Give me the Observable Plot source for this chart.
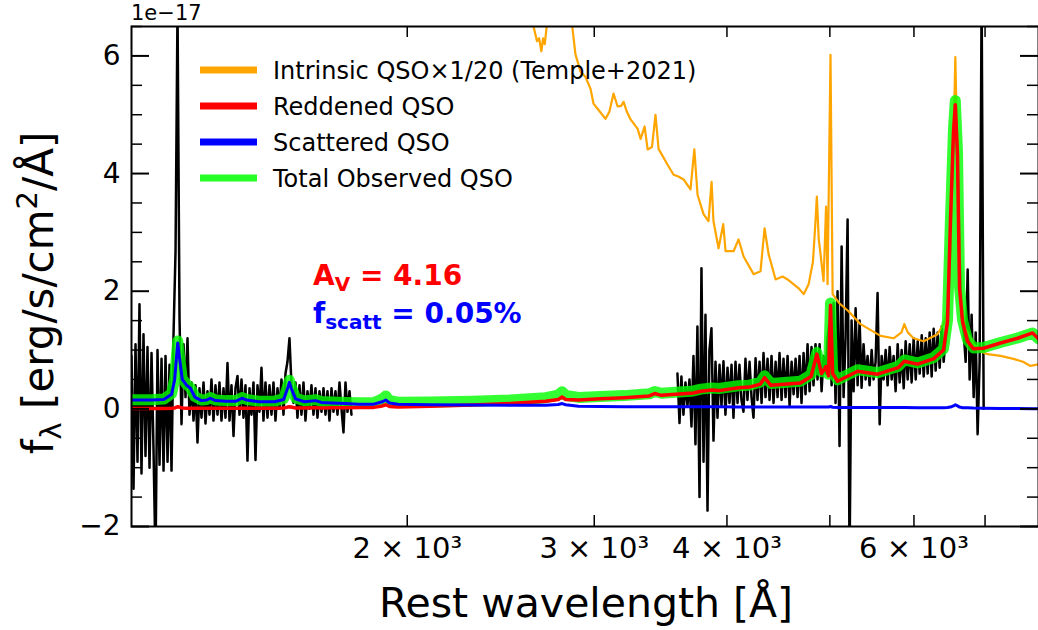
<!DOCTYPE html>
<html><head><meta charset="utf-8">
<script src="https://cdn.jsdelivr.net/npm/d3@7"></script>
<script src="https://cdn.jsdelivr.net/npm/@observablehq/plot@0.6"></script>
<style>
html,body{margin:0;padding:0;background:#fff;}
#chart{width:1038px;height:630px;}
svg{display:block;}
</style></head>
<body><div id="chart"></div>
<script>
// ---------------- DATA ----------------
// Observed spectrum, blue part (rest wavelength [Å], flux [1e-17 erg/s/cm2/Å])
const obsWave1 = [1100.0,1104.8,1109.6,1114.4,1119.2,1124.1,1129.0,1133.9,1138.8,1143.8,1148.8,1153.8,1158.8,1163.8,1168.9,1174.0,1179.1,1184.2,1189.4,1194.5,1199.7,1204.9,1210.2,1215.4,1220.7,1226.0,1231.3,1236.7,1242.0,1247.4,1252.8,1258.3,1263.7,1269.2,1274.7,1280.3,1285.9,1291.4,1297.0,1302.7,1308.3,1314.0,1319.7,1325.5,1331.2,1337.0,1342.8,1348.6,1354.5,1360.4,1366.3,1372.3,1378.2,1384.2,1390.2,1396.3,1402.3,1408.4,1414.5,1420.7,1426.8,1433.0,1439.3,1445.5,1451.8,1458.1,1464.4,1470.8,1477.2,1483.6,1490.1,1496.5,1503.0,1509.6,1516.1,1522.7,1529.3,1536.0,1542.6,1549.3,1556.1,1562.8,1569.6,1576.4,1583.3,1590.2,1597.1,1604.0,1611.0,1618.0,1625.0,1632.1,1639.2,1646.3,1653.5,1660.7,1667.9,1675.1,1682.4,1689.7,1697.1,1704.4,1711.8,1719.3,1726.8,1734.3,1741.8,1749.4,1757.0,1764.6,1772.3];
const obsFlux1 = [0.9,-1.36,1.1,-0.9,1.78,-1.1,1.27,-0.8,1.05,-1.0,0.95,-0.7,-2.6,1.0,-0.95,0.85,-1.05,0.9,-0.9,0.75,-1.05,1.25,2.68,6.8,1.55,-0.26,1.1,0.2,1.2,-0.1,0.45,-0.2,0.4,-0.57,0.35,-0.15,0.45,-0.25,0.3,-0.1,0.5,-0.2,0.4,-0.1,0.45,-0.2,0.35,-0.15,0.78,-0.2,0.4,-0.46,0.35,0.56,-0.1,0.5,-0.15,0.4,-0.88,0.35,-0.1,0.45,-0.87,0.4,-0.05,0.7,-0.2,0.45,-0.15,0.4,-0.1,0.45,-0.2,0.35,0.0,0.5,-0.1,0.6,0.8,1.2,0.4,0.1,0.45,-0.15,0.4,-0.1,0.45,-0.2,0.3,0.0,0.4,-0.1,0.35,-0.15,0.3,-0.05,0.35,-0.1,0.3,-0.2,0.35,-0.05,0.3,-0.1,0.45,0.0,-0.4,0.45,-0.05,0.3,-0.1];
// Observed spectrum, red part
const obsWave2 = [3593,3609,3624,3640,3656,3672,3688,3704,3720,3736,3752,3769,3785,3802,3818,3835,3851,3868,3885,3902,3919,3936,3953,3970,3987,4005,4022,4040,4057,4075,4093,4110,4128,4146,4164,4182,4201,4219,4237,4256,4274,4293,4312,4330,4349,4368,4387,4406,4425,4445,4464,4483,4503,4522,4542,4562,4582,4602,4622,4642,4662,4682,4702,4723,4743,4764,4785,4805,4826,4847,4868,4890,4911,4932,4954,4975,4997,5019,5040,5062,5084,5106,5129,5151,5173,5196,5218,5241,5264,5287,5310,5333,5356,5379,5403,5426,5450,5474,5497,5521,5545,5570,5594,5618,5643,5667,5692,5717,5741,5766,5792,5817,5842,5868,5893,5919,5945,5970,5996,6023,6049,6075,6102,6128,6155,6181,6208,6235,6262,6289,6317,6344,6372,6399,6427,6455,6483,6511,6539,6568,6596,6625,6654,6683,6712,6741,6770,6799,6829,6859,6888,6918,6948,6979];
const obsFlux2 = [0.6,-0.24,0.55,-0.1,0.45,0.05,0.5,-0.3,0.9,-0.6,1.4,-1.5,2.39,-0.9,1.6,-1.73,1.0,1.37,-0.54,0.8,-0.15,0.75,0.05,0.81,-0.1,0.7,0.1,0.75,-0.15,0.8,0.1,0.75,0.15,-0.05,0.85,0.15,0.8,0.2,-0.15,0.86,0.15,0.8,0.1,0.95,0.2,0.85,0.15,0.9,0.1,0.8,0.2,0.95,0.15,0.85,0.2,0.9,0.05,0.8,0.25,0.85,0.2,0.9,0.1,0.95,0.25,1.1,0.3,1.05,0.4,1.1,0.5,1.1,0.3,0.9,0.6,1.2,1.5,0.4,1.8,0.1,2.0,-0.63,2.76,0.2,1.2,3.22,-2.6,1.5,0.3,1.71,0.4,1.5,0.36,1.1,0.5,0.9,0.4,1.0,0.5,0.8,1.97,-0.26,0.9,0.5,1.0,0.4,1.05,0.5,0.9,0.3,1.1,0.45,1.0,0.35,1.15,0.5,1.1,0.45,1.2,0.5,1.15,0.6,1.25,0.55,1.2,0.6,1.3,0.55,1.36,0.65,1.3,0.7,1.4,0.8,1.2,1.5,2.5,3.8,4.7,5.1,4.2,2.6,1.6,1.3,0.8,2.37,0.5,1.6,0.2,1.3,-0.43,0.8,7.0,0.0];

// Intrinsic QSO template x 1/20
const intrWave = [2550,2600,2630,2650,2662,2675,2685,2695,2706,2750,2798,2840,2862,2880,2912,2944,2976,2995,3028,3074,3100,3128,3156,3180,3197,3220,3246,3296,3317,3346,3368,3400,3426,3449,3517,3563,3600,3641,3696,3727,3753,3802,3843,3869,3885,3928,3968,3988,4058,4102,4147,4238,4302,4340,4378,4445,4513,4562,4673,4724,4775,4820,4847,4861,4880,4900,4932,4959,4975,5007,5030,5100,5206,5344,5581,5741,5840,5876,5920,5995,6127,6315,6400,6453,6494,6530,6553,6563,6573,6600,6637,6700,6827,6950,7038,7239,7446,7600,7725,7860];
const intrFlux = [7.3,6.9,6.5,6.25,6.3,6.08,6.3,6.2,6.5,7.6,9.5,7.2,6.46,6.03,5.73,5.64,5.44,5.19,5.08,4.93,5.05,5.36,5.14,5.15,5.22,5.05,4.92,4.76,4.59,4.8,4.41,4.45,5.0,4.42,4.15,3.98,3.95,3.9,3.73,4.41,3.64,3.31,3.19,3.86,3.19,2.73,3.14,2.68,2.68,2.88,2.59,2.29,2.34,3.07,2.63,2.2,2.25,2.2,2.05,1.95,2.12,2.5,3.2,3.61,2.9,2.63,2.17,3.44,2.12,6.02,1.95,1.8,1.66,1.44,1.24,1.2,1.3,1.44,1.3,1.2,1.15,1.27,1.45,1.7,2.6,4.3,5.4,5.98,5.4,3.8,2.0,1.4,1.1,0.97,0.93,0.9,0.85,0.8,0.73,0.76];

// Model components on a common wavelength grid
const modelWave = [1100,1150,1180,1200,1208,1213,1216,1220,1228,1240,1250,1262,1280,1295,1305,1320,1350,1380,1398,1412,1450,1500,1530,1543,1549,1555,1570,1600,1640,1660,1700,1750,1800,1860,1895,1909,1925,1960,2100,2300,2500,2700,2775,2798,2820,2900,3040,3200,3380,3420,3470,3720,3780,3870,3930,4102,4200,4300,4340,4400,4690,4800,4861,4910,4959,4985,5007,5030,5085,5310,5545,5800,5876,6046,6260,6397,6453,6494,6537,6563,6594,6623,6666,6739,6827,6976,7238,7511,7760,7860];
const scattered = [0.15,0.15,0.16,0.25,0.50,0.90,1.12,0.90,0.50,0.40,0.35,0.20,0.14,0.15,0.18,0.14,0.13,0.13,0.18,0.15,0.12,0.12,0.16,0.35,0.45,0.35,0.17,0.12,0.14,0.11,0.10,0.09,0.08,0.08,0.12,0.15,0.10,0.08,0.07,0.065,0.06,0.06,0.075,0.09,0.07,0.045,0.04,0.035,0.035,0.035,0.035,0.035,0.035,0.035,0.035,0.033,0.033,0.032,0.032,0.032,0.03,0.03,0.03,0.03,0.03,0.03,0.04,0.028,0.025,0.025,0.025,0.022,0.022,0.02,0.02,0.02,0.022,0.03,0.05,0.07,0.05,0.03,0.02,0.02,0.015,0.012,0.008,0.004,0.0,0.0];
const reddened = [0.005,0.005,0.006,0.01,0.015,0.03,0.035,0.03,0.015,0.012,0.01,0.01,0.01,0.01,0.012,0.01,0.01,0.01,0.012,0.01,0.01,0.012,0.015,0.03,0.035,0.03,0.015,0.015,0.017,0.016,0.018,0.02,0.022,0.025,0.05,0.07,0.04,0.033,0.045,0.065,0.09,0.13,0.16,0.20,0.16,0.15,0.17,0.19,0.22,0.26,0.23,0.27,0.30,0.32,0.31,0.36,0.37,0.42,0.53,0.40,0.44,0.55,0.93,0.60,0.72,0.56,1.76,0.60,0.47,0.64,0.59,0.70,0.81,0.76,0.85,1.00,1.49,3.19,4.71,5.17,4.32,2.05,1.49,1.15,1.02,1.03,1.12,1.20,1.29,1.19];
const totalObs = [0.155,0.155,0.166,0.26,0.515,0.93,1.155,0.93,0.515,0.412,0.36,0.21,0.15,0.16,0.192,0.15,0.14,0.14,0.192,0.16,0.13,0.132,0.175,0.38,0.485,0.38,0.185,0.135,0.157,0.126,0.118,0.11,0.102,0.105,0.17,0.22,0.14,0.113,0.115,0.13,0.15,0.19,0.235,0.29,0.23,0.195,0.21,0.225,0.255,0.295,0.265,0.305,0.335,0.355,0.345,0.393,0.403,0.452,0.562,0.432,0.47,0.58,0.96,0.63,0.75,0.59,1.80,0.628,0.495,0.665,0.615,0.722,0.832,0.78,0.87,1.02,1.512,3.22,4.76,5.24,4.37,2.08,1.51,1.17,1.035,1.042,1.128,1.204,1.29,1.19];

// Axes
const xDomain = [1100, 7860];
const yDomain = [-2, 6.5];
const xTicks = [2000, 3000, 4000, 5000, 6000, 7000];
const xTickLabels = [[2000, "2 × 10³"], [3000, "3 × 10³"], [4000, "4 × 10³"], [6000, "6 × 10³"]];
const yMajor = [-2, 0, 2, 4, 6];
const yMinor = [-1.5, -1, -0.5, 0.5, 1, 1.5, 2.5, 3, 3.5, 4.5, 5, 5.5, 6.5];
const legendItems = [
  ["Intrinsic QSO×1/20 (Temple+2021)", "#ffa500"],
  ["Reddened QSO", "#ff0000"],
  ["Scattered QSO", "#0000ff"],
  ["Total Observed QSO", "#00ff00"]
];

// ---------------- LAYOUT ----------------
const W = 1038, H = 630;
const mL = 131, mR = 0, mT = 26, mB = 104;
const pW = W - mL - mR, pH = H - mT - mB;
const FONT = "DejaVu Sans";

const obs1 = obsWave1.map((w, i) => ({w, f: obsFlux1[i]}));
const obs2 = obsWave2.map((w, i) => ({w, f: obsFlux2[i]}));
const intr = intrWave.map((w, i) => ({w, f: intrFlux[i]}));
const model = modelWave.map((w, i) => ({w, s: scattered[i], r: reddened[i], t: totalObs[i]}));
const xLab = new Map(xTickLabels);
const yFmt = d3.format("d");

const svg = Plot.plot({
  width: W, height: H,
  marginLeft: mL, marginRight: mR, marginTop: mT, marginBottom: mB,
  style: {fontFamily: FONT, background: "white", color: "black", overflow: "visible"},
  x: {type: "log", domain: xDomain, label: null},
  y: {domain: yDomain, label: null},
  marks: [
    Plot.line(obs1, {x: "w", y: "f", stroke: "black", strokeWidth: 2.5, clip: true}),
    Plot.line(obs2, {x: "w", y: "f", stroke: "black", strokeWidth: 2.5, clip: true}),
    Plot.line(intr, {x: "w", y: "f", stroke: "#ffa500", strokeWidth: 2.2, clip: true}),
    Plot.line(model, {x: "w", y: "t", stroke: "#00ff00", strokeOpacity: 0.8, strokeWidth: 11, strokeLinejoin: "round", strokeLinecap: "round", clip: true}),
    Plot.line(model, {x: "w", y: "r", stroke: "#ff0000", strokeWidth: 3.5, clip: true}),
    Plot.line(model, {x: "w", y: "s", stroke: "#0000ff", strokeWidth: 3, clip: true}),
    // inward ticks on all four sides
    Plot.tickX(xTicks, {x: d => d, stroke: "black", strokeWidth: 1.5, insetTop: pH - 11}),
    Plot.tickX(xTicks, {x: d => d, stroke: "black", strokeWidth: 1.5, insetBottom: pH - 11}),
    Plot.tickY(yMajor, {y: d => d, stroke: "black", strokeWidth: 2, insetRight: pW - 18}),
    Plot.tickY(yMinor, {y: d => d, stroke: "black", strokeWidth: 1.5, insetRight: pW - 11}),
    Plot.tickY(yMajor, {y: d => d, stroke: "black", strokeWidth: 2, insetLeft: pW - 18}),
    Plot.tickY(yMinor, {y: d => d, stroke: "black", strokeWidth: 1.5, insetLeft: pW - 11}),
    Plot.axisX(xTickLabels.map(d => d[0]), {tickSize: 0, tickPadding: 11, fontSize: 29, tickFormat: d => xLab.get(d)}),
    Plot.axisY(yMajor, {tickSize: 0, tickPadding: 11, fontSize: 28, tickFormat: d => yFmt(d)}),
    Plot.frame({stroke: "black", strokeWidth: 2})
  ]
});
document.getElementById("chart").appendChild(svg);

// ---------------- TEXT OVERLAYS ----------------
const s = d3.select(svg);
const g = s.append("g").attr("font-family", FONT).attr("fill", "black").attr("text-anchor", "start");

// offset text
g.append("text").attr("x", 131).attr("y", 20).attr("font-size", 21).attr("text-anchor", "start").text("1e−17");

// x label
g.append("text").attr("x", 586).attr("y", 617).attr("text-anchor", "middle")
  .attr("font-size", 41).text("Rest wavelength [Å]");

// y label
const yl = g.append("text").attr("transform", "translate(53,293) rotate(-90)")
  .attr("text-anchor", "middle").attr("font-size", 42);
yl.append("tspan").text("f");
yl.append("tspan").attr("font-size", 29).attr("dy", 8).text("λ");
yl.append("tspan").attr("dy", -8).text(" [erg/s/cm");
yl.append("tspan").attr("font-size", 29).attr("dy", -16).text("2");
yl.append("tspan").attr("dy", 16).text("/Å]");

// legend
const lg = g.append("g");
legendItems.forEach(([label, color], i) => {
  const y = 70 + i * 36;
  lg.append("line").attr("x1", 200).attr("x2", 257).attr("y1", y).attr("y2", y)
    .attr("stroke", color).attr("stroke-width", 7)
    .attr("stroke-opacity", i === 3 ? 0.85 : 1);
  lg.append("text").attr("x", 273).attr("y", y).attr("dy", "0.36em")
    .attr("text-anchor", "start").attr("font-size", 24).text(label);
});

// annotations
const a1 = g.append("text").attr("x", 313).attr("y", 285).attr("font-size", 28)
  .attr("text-anchor", "start").attr("font-weight", "bold").attr("fill", "#ff0000");
a1.append("tspan").text("A");
a1.append("tspan").attr("font-size", 20).attr("dy", 6).text("V");
a1.append("tspan").attr("dy", -6).text(" = 4.16");
const a2 = g.append("text").attr("x", 313).attr("y", 323).attr("font-size", 28)
  .attr("text-anchor", "start").attr("font-weight", "bold").attr("fill", "#0000ff");
a2.append("tspan").text("f");
a2.append("tspan").attr("font-size", 20).attr("dy", 6).text("scatt");
a2.append("tspan").attr("dy", -6).text(" = 0.05%");
</script>
</body></html>
